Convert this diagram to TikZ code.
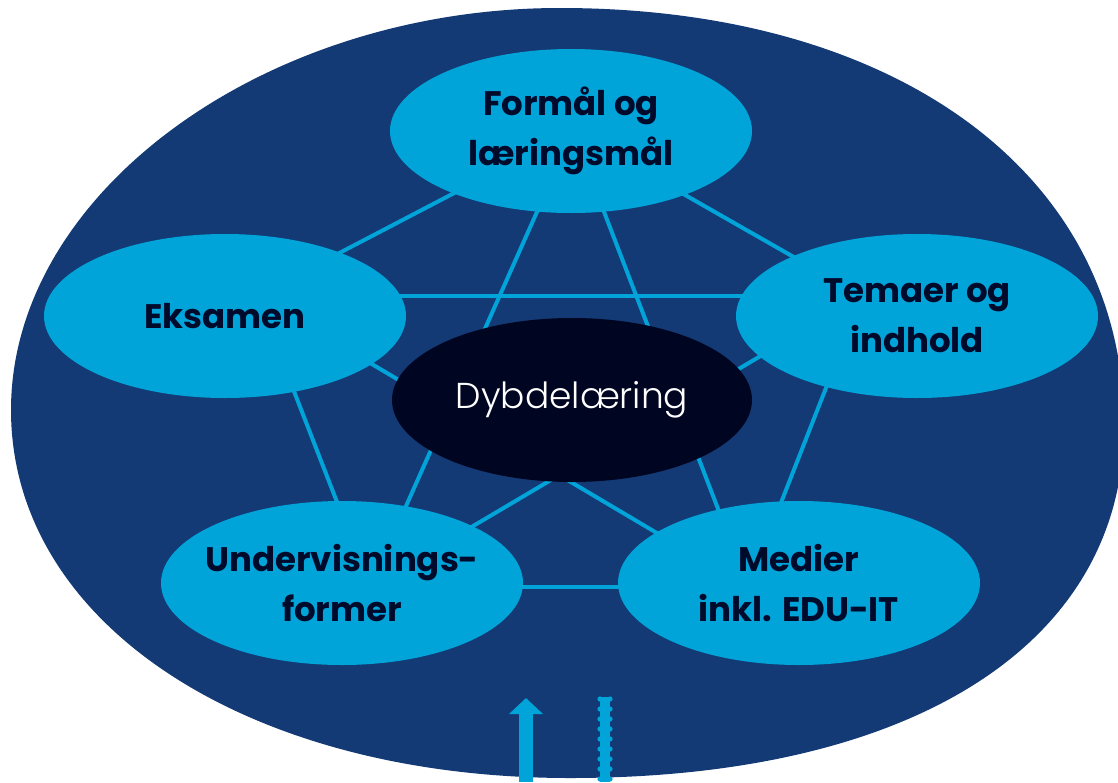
\documentclass[tikz,border=0pt]{standalone}
\usepackage{fontspec}
\setmainfont{Poppins}
\newfontfamily\thinfont{Poppins Light}
\usetikzlibrary{shapes.geometric,arrows.meta,backgrounds,calc}

\definecolor{ringblue}{HTML}{133A75}
\definecolor{topicblue}{HTML}{00A4D9}
\definecolor{coreblue}{HTML}{000522}
\definecolor{inkblue}{HTML}{000A2B}

\tikzset{
  topic/.style={ellipse, fill=topicblue, minimum width=362pt, minimum height=164pt,
    inner xsep=-40pt, inner ysep=0pt, align=center, text=inkblue,
    font=\fontsize{34}{50}\selectfont\bfseries},
  core/.style={ellipse, fill=coreblue, minimum width=360pt, minimum height=164pt,
    inner sep=0pt, text=white, font=\thinfont\fontsize{36}{40}\selectfont},
  link/.style={topicblue, line width=4pt},
}

\begin{document}
\begin{tikzpicture}[x=1pt, y=-1pt]
\useasboundingbox (0,0) rectangle (1118,782);

\node[topic] (fo) at (571,131) {Formål og\\læringsmål};
\node[topic] (ek) at (225,316) {Eksamen};
\node[topic] (te) at (917,316) {Temaer og\\indhold};
\node[topic] (un) at (342,583) {Undervisnings-\\former};
\node[topic] (me) at (799,583) {Medier\\inkl. EDU-IT};
\node[core] (dy) at (572,400) {Dybdelæring};

% corners of the star
\coordinate (fo-v) at ($(fo)+(2,0)$);
\coordinate (ek-v) at ($(ek)+(32,-20)$);
\coordinate (te-v) at ($(te)+(-55,-20)$);
\coordinate (un-v) at ($(un)+(28,4)$);
\coordinate (me-v) at ($(me)+(-51,4)$);

\begin{scope}[on background layer]
\fill[ringblue] (560,8) .. controls (898,8) and (1124,175) .. (1124,425)
  .. controls (1124,644) and (913,778) .. (570,778)
  .. controls (246,778) and (11,623) .. (11,410)
  .. controls (11,193) and (264,8) .. (560,8) -- cycle;
\foreach \a/\b in {fo/ek, fo/te, fo/un, fo/me, ek/te, ek/un, ek/me, te/un, te/me, un/me}
  \draw[link] (\a-v) -- (\b-v);
\end{scope}

% arrow and chain at the bottom
\coordinate (pil-a) at (526,782);
\coordinate (pil-b) at (526,698);
\draw[topicblue, line width=14pt, -{Triangle[width=33pt, length=16pt]}] (pil-a) -- (pil-b);
\fill[topicblue] (600,697) rectangle (610,782);
\foreach \y in {699,709,...,779}
  \fill[topicblue] (600,\y) circle (2.6pt) (610,\y) circle (2.6pt);
\end{tikzpicture}
\end{document}
